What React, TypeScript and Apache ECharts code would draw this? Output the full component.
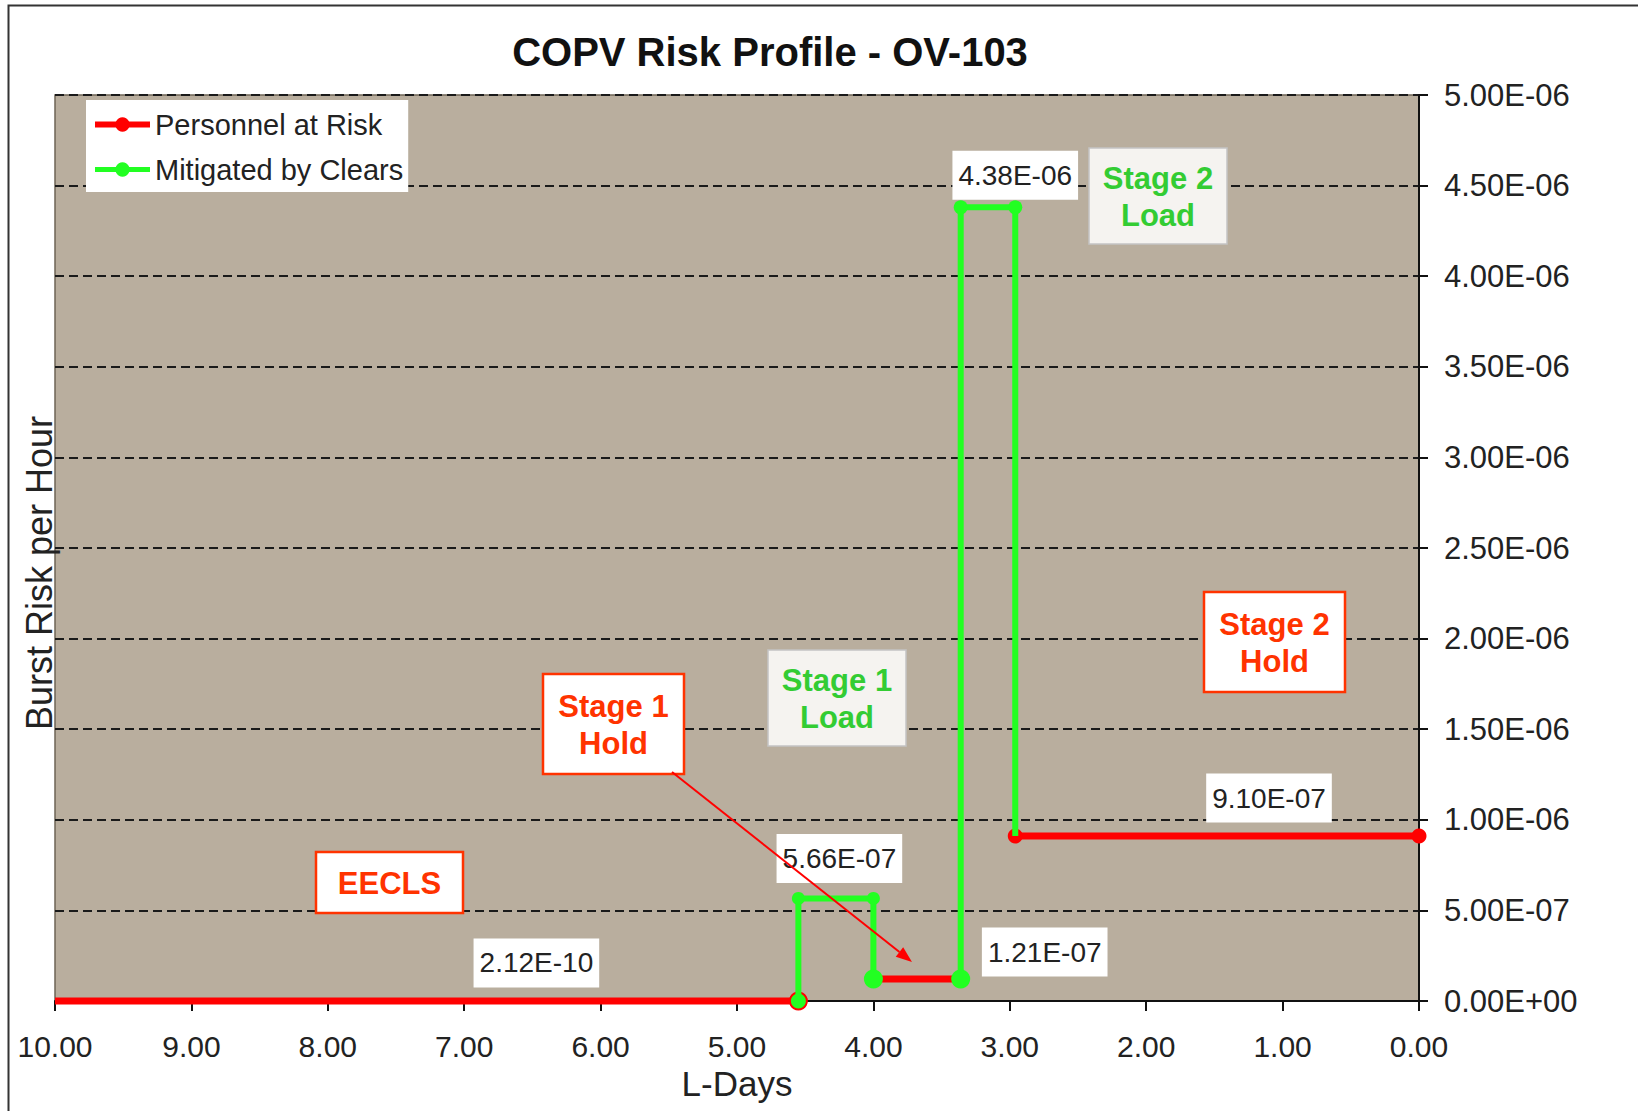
import React, { useEffect, useRef } from 'react';
import * as echarts from 'echarts';

const chartTitle = 'COPV Risk Profile - OV-103';
const xAxisName = 'L-Days';
const yAxisName = 'Burst Risk per Hour';
const seriesNames = ['Personnel at Risk', 'Mitigated by Clears'];

// [L-Days, burst risk per hour], one list per drawn segment
const personnelSegments: number[][][] = [
  [[10, 2.12e-10], [4.55, 2.12e-10]],
  [[4.0, 1.21e-7], [3.36, 1.21e-7]],
  [[2.96, 9.1e-7], [0, 9.1e-7]],
];
const clearsSegments: number[][][] = [
  [[4.55, 0], [4.55, 5.66e-7], [4.0, 5.66e-7], [4.0, 1.21e-7]],
  [[3.36, 1.21e-7], [3.36, 4.38e-6], [2.96, 4.38e-6], [2.96, 9.1e-7]],
];
const xRange = { min: 0, max: 10, interval: 1 };
const yRange = { min: 0, max: 5e-6, interval: 5e-7 };
const phaseLabels = ['EECLS', 'Stage 1\nHold', 'Stage 1\nLoad', 'Stage 2\nLoad', 'Stage 2\nHold'];

// styling (marker sizes per point, value-label offsets)
const personnelMarkers = [[0, 19], [0, 0], [15, 15]];
const clearsMarkers = [[15, 13, 13, 19], [19, 14, 14, 0]];
const personnelLabelOffsets: Record<string, number[]> = { '0-1': [-262, -38], '2-1': [-150, -38] };
const clearsLabelOffsets: Record<string, number[]> = { '0-1': [41, -40], '1-0': [84, -27], '1-2': [0, -32] };

const FONT = '"Liberation Sans", Arial, Helvetica, sans-serif';
const RED = '#ff0000';
const GREEN = '#22ff22';
const HOLD = '#ff3300';
const LOAD = '#33cc33';

function sci(v: number): string {
  if (v === 0) return '0.00E+00';
  let e = Math.floor(Math.log10(Math.abs(v)));
  let m = v / Math.pow(10, e);
  if (Math.abs(m) >= 9.995) {
    m /= 10;
    e += 1;
  }
  return m.toFixed(2) + 'E' + (e < 0 ? '-' : '+') + String(Math.abs(e)).padStart(2, '0');
}

const valueLabelStyle = {
  show: true,
  position: 'inside',
  backgroundColor: '#ffffff',
  padding: [8, 6, 8, 6],
  fontSize: 28,
  lineHeight: 33,
  color: '#222',
  fontFamily: FONT,
};

function buildData(segs: number[][][], markers: number[][], offsets: Record<string, number[]>) {
  const out: any[] = [];
  segs.forEach((seg, si) => {
    if (si > 0) out.push({ value: ['-', '-'], symbol: 'none' });
    seg.forEach((pt, pi) => {
      const size = markers[si][pi];
      const item: any = { value: pt, symbol: size ? 'circle' : 'none', symbolSize: size || 1 };
      const off = offsets[`${si}-${pi}`];
      if (off) {
        item.label = { ...valueLabelStyle, offset: off, formatter: () => sci(pt[1]) };
      }
      out.push(item);
    });
  });
  return out;
}

function box(x: number, y: number, w: number, h: number, text: string, kind: 'hold' | 'load') {
  const hold = kind === 'hold';
  return {
    type: 'group',
    x,
    y,
    z: 100,
    children: [
      {
        type: 'rect',
        z: 100,
        shape: { x: 0, y: 0, width: w, height: h },
        style: {
          fill: hold ? '#ffffff' : '#f5f3f0',
          stroke: hold ? HOLD : '#c4c4c4',
          lineWidth: hold ? 2.5 : 1.5,
        },
      },
      {
        type: 'text',
        z: 101,
        x: w / 2,
        y: h / 2 + 1,
        style: {
          text,
          align: 'center',
          verticalAlign: 'middle',
          fontSize: 31,
          lineHeight: 37,
          fontWeight: 'bold',
          fontFamily: FONT,
          fill: hold ? HOLD : LOAD,
        },
      },
    ],
  };
}

export default function App() {
  const ref = useRef<HTMLDivElement>(null);

  useEffect(() => {
    if (!ref.current) return;
    const chart = echarts.init(ref.current, null, { renderer: 'svg' });

    const tip = [912, 962];
    const start = [672, 772];
    const dx = tip[0] - start[0];
    const dy = tip[1] - start[1];
    const len = Math.sqrt(dx * dx + dy * dy);
    const ux = dx / len;
    const uy = dy / len;
    const hl = 16;
    const hw = 6;
    const bx = tip[0] - ux * hl;
    const by = tip[1] - uy * hl;

    const option: any = {
      animation: false,
      backgroundColor: '#ffffff',
      textStyle: { fontFamily: FONT },
      grid: {
        left: 55,
        right: 219,
        top: 95,
        bottom: 110,
        show: true,
        backgroundColor: '#b9ae9e',
        borderColor: '#6d6455',
        borderWidth: 1.5,
      },
      legend: {
        orient: 'vertical',
        left: 86,
        top: 100,
        data: [
          { name: seriesNames[0], lineStyle: { width: 6 } },
          { name: seriesNames[1], lineStyle: { width: 5 } },
        ],
        backgroundColor: '#ffffff',
        padding: [10, 5, 8, 6],
        itemGap: 16,
        itemWidth: 55,
        itemHeight: 18,
        textStyle: { fontSize: 29, color: '#222', fontFamily: FONT },
      },
      xAxis: {
        type: 'value',
        inverse: true,
        min: xRange.min,
        max: xRange.max,
        interval: xRange.interval,
        name: xAxisName,
        nameLocation: 'middle',
        nameGap: 64,
        nameTextStyle: { fontSize: 35, color: '#222', fontFamily: FONT },
        axisLine: { show: true, lineStyle: { color: '#111', width: 2 } },
        axisTick: { show: true, length: 10, lineStyle: { color: '#111', width: 2 } },
        axisLabel: {
          fontSize: 30,
          color: '#222',
          margin: 30,
          fontFamily: FONT,
          formatter: (v: number) => v.toFixed(2),
        },
        splitLine: { show: false },
      },
      yAxis: {
        type: 'value',
        position: 'right',
        min: yRange.min,
        max: yRange.max,
        interval: yRange.interval,
        axisLine: { show: true, lineStyle: { color: '#111', width: 2 } },
        axisTick: { show: true, length: 9, lineStyle: { color: '#111', width: 2 } },
        axisLabel: {
          fontSize: 31,
          color: '#222',
          margin: 25,
          fontFamily: FONT,
          formatter: (v: number) => sci(v),
        },
        splitLine: { show: true, lineStyle: { color: '#1a1a1a', width: 2, type: [9, 5] } },
      },
      series: [
        {
          name: seriesNames[0],
          type: 'line',
          z: 3,
          clip: false,
          symbol: 'circle',
          showSymbol: true,
          connectNulls: false,
          color: RED,
          lineStyle: { color: RED, width: 7 },
          itemStyle: { color: RED },
          data: buildData(personnelSegments, personnelMarkers, personnelLabelOffsets),
        },
        {
          name: seriesNames[1],
          type: 'line',
          z: 4,
          clip: false,
          symbol: 'circle',
          showSymbol: true,
          connectNulls: false,
          color: GREEN,
          lineStyle: { color: GREEN, width: 6 },
          itemStyle: { color: GREEN },
          data: buildData(clearsSegments, clearsMarkers, clearsLabelOffsets),
        },
      ],
      graphic: [
        {
          type: 'rect',
          z: -1,
          shape: { x: 8.5, y: 5.5, width: 1700, height: 1200 },
          style: { fill: 'none', stroke: '#333', lineWidth: 2 },
        },
        {
          type: 'text',
          x: 770,
          y: 52,
          style: {
            text: chartTitle,
            align: 'center',
            verticalAlign: 'middle',
            fontSize: 40,
            fontWeight: 'bold',
            fontFamily: FONT,
            fill: '#111',
          },
        },
        {
          type: 'text',
          x: 39,
          y: 573,
          rotation: Math.PI / 2,
          style: {
            text: yAxisName,
            align: 'center',
            verticalAlign: 'middle',
            fontSize: 36,
            fontFamily: FONT,
            fill: '#222',
          },
        },
        box(316, 852, 147, 61, phaseLabels[0], 'hold'),
        box(543, 674, 141, 100, phaseLabels[1], 'hold'),
        box(768, 650, 138, 96, phaseLabels[2], 'load'),
        box(1089, 148, 138, 96, phaseLabels[3], 'load'),
        box(1204, 592, 141, 100, phaseLabels[4], 'hold'),
        {
          type: 'line',
          z: 120,
          shape: { x1: start[0], y1: start[1], x2: bx, y2: by },
          style: { stroke: RED, lineWidth: 2 },
        },
        {
          type: 'polygon',
          z: 120,
          shape: {
            points: [
              [tip[0], tip[1]],
              [bx - uy * hw, by + ux * hw],
              [bx + uy * hw, by - ux * hw],
            ],
          },
          style: { fill: RED },
        },
      ],
    };

    chart.setOption(option);
    return () => chart.dispose();
  }, []);

  return (
    <div
      ref={ref}
      style={{ position: 'absolute', left: 0, top: 0, width: 1638, height: 1111, background: '#fff' }}
    />
  );
}
